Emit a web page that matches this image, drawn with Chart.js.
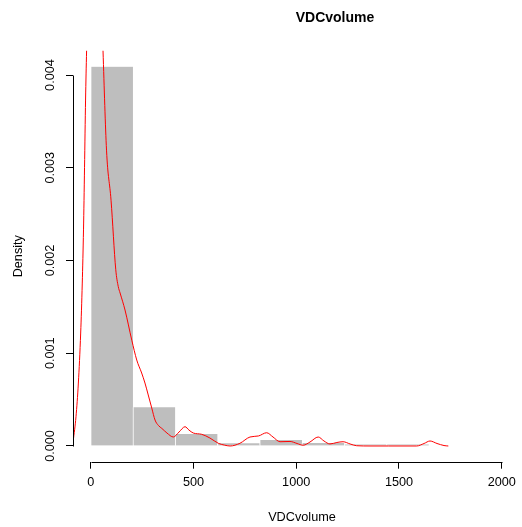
<!DOCTYPE html>
<html><head><meta charset="utf-8">
<script src="https://cdn.jsdelivr.net/npm/chart.js@4/dist/chart.umd.min.js"></script>
<style>html,body{margin:0;padding:0;background:#fff}#wrap{width:522px;height:527px}</style>
</head><body><div id="wrap"><canvas id="c" width="522" height="527"></canvas></div>
<script>
// ---- data ----
const chartTitle = 'VDCvolume';
const xLabel = 'VDCvolume';
const yLabel = 'Density';
const binCenters = [102.8, 308.4, 514.0, 719.6, 925.2, 1130.8, 1336.4, 1542.0];
const binDensity = [0.00409, 0.000417, 0.000129, 0.00003, 0.000064, 0.000032, 0.000017, 0.000017];
const densityX = [-85, -71.5, -60, -48.7, -41, -35, -30, -25, -20, -10, 5, 20, 35, 50, 60, 77, 99, 122, 134, 143, 167, 200, 224, 248, 264, 280, 297, 313, 330, 346, 371, 402, 430, 459, 478, 499, 540, 580, 621, 650, 678, 726, 775, 816, 856, 887, 921, 970, 1004, 1034, 1067, 1107, 1135, 1164, 1198, 1228, 1262, 1294, 1359, 1450, 1586, 1622, 1651, 1685, 1719, 1740];
const densityY = [0.000054, 0.000316, 0.000679, 0.001218, 0.001757, 0.00233, 0.0030, 0.00373, 0.00426, 0.0052, 0.0060, 0.0062, 0.0058, 0.0050, 0.00426, 0.00319, 0.00265, 0.00190, 0.00172, 0.00165, 0.001466, 0.00114, 0.000927, 0.000787, 0.000679, 0.00055, 0.00041, 0.00028, 0.00022, 0.00019, 0.00014, 0.000097, 0.000151, 0.000208, 0.000172, 0.00014, 0.000126, 0.000086, 0.000029, 0.00001, 0.0, 0.000029, 0.000097, 0.000108, 0.000143, 0.000097, 0.000046, 0.000049, 0.000027, 0.000008, 0.000043, 0.000097, 0.000054, 0.000022, 0.000038, 0.000046, 0.000022, 0.000003, 0.0, 0.0, 0.0, 0.000027, 0.000054, 0.000027, 0.000005, 0.0];
const xTicks = [0, 500, 1000, 1500, 2000];
const xTickLabels = ['0', '500', '1000', '1500', '2000'];
const yTicks = [0, 0.001, 0.002, 0.003, 0.004];
const yTickLabels = ['0.000', '0.001', '0.002', '0.003', '0.004'];

// ---- chart ----
const FONT = '"Liberation Sans", Arial, Helvetica, sans-serif';
const FS = 12.7;

const rAxes = {
  id: 'rAxes',
  afterDraw(chart) {
    const ctx = chart.ctx;
    const xs = chart.scales.x, ys = chart.scales.y;
    const a = chart.chartArea;
    ctx.save();
    ctx.strokeStyle = '#000';
    ctx.lineWidth = 1;
    ctx.beginPath();
    const yb = Math.round(a.bottom) + 0.5;
    ctx.moveTo(Math.round(xs.getPixelForValue(xTicks[0])) + 0.5, yb);
    ctx.lineTo(Math.round(xs.getPixelForValue(xTicks[xTicks.length - 1])) + 0.5, yb);
    const xl = Math.round(a.left) + 0.5;
    ctx.moveTo(xl, Math.round(ys.getPixelForValue(yTicks[0])) + 0.5);
    ctx.lineTo(xl, Math.round(ys.getPixelForValue(yTicks[yTicks.length - 1])) + 0.5);
    ctx.stroke();
    ctx.fillStyle = '#000';
    ctx.textAlign = 'center';
    ctx.textBaseline = 'middle';
    ctx.font = 'bold 14px ' + FONT;
    ctx.fillText(chartTitle, 335, 18);
    ctx.font = FS + 'px ' + FONT;
    ctx.fillText(xLabel, 302, 517);
    ctx.restore();
  }
};

new Chart(document.getElementById('c'), {
  type: 'bar',
  data: {
    datasets: [
      {
        type: 'line',
        order: 0,
        data: densityX.map((x, i) => ({x: x, y: densityY[i]})),
        borderColor: '#ff0000',
        borderWidth: 1,
        pointRadius: 0,
        cubicInterpolationMode: 'monotone',
        fill: false
      },
      {
        type: 'bar',
        order: 1,
        data: binCenters.map((x, i) => ({x: x, y: binDensity[i]})),
        backgroundColor: '#bebebe',
        borderColor: '#ffffff',
        borderWidth: {left: 1, right: 0, top: 0, bottom: 0},
        borderSkipped: false,
        barPercentage: 1,
        categoryPercentage: 1
      }
    ]
  },
  options: {
    responsive: false,
    animation: false,
    devicePixelRatio: 1,
    layout: {padding: {left: 0, right: 3.6, top: 50.7, bottom: 0}},
    plugins: {legend: {display: false}, tooltip: {enabled: false}, title: {display: false}},
    scales: {
      x: {
        type: 'linear',
        min: -86.1,
        max: 2080,
        offset: false,
        afterBuildTicks: s => { s.ticks = xTicks.map(v => ({value: v})); },
        afterFit: s => { s.height = 527 - 461.7; },
        border: {display: false},
        grid: {display: true, drawOnChartArea: false, drawTicks: true, tickLength: 7, color: '#000', offset: false},
        ticks: {
          autoSkip: false, maxRotation: 0, minRotation: 0, padding: 6,
          color: '#000', font: {family: FONT, size: FS},
          callback: (v, i) => xTickLabels[i]
        }
      },
      y: {
        type: 'linear',
        min: -0.0001693,
        max: 0.004262,
        afterBuildTicks: s => { s.ticks = yTicks.map(v => ({value: v})); },
        afterFit: s => { s.width = 73; },
        border: {display: false},
        grid: {display: true, drawOnChartArea: false, drawTicks: true, tickLength: 7, color: '#000'},
        ticks: {
          autoSkip: false, minRotation: 90, maxRotation: 90, crossAlign: 'center', padding: 0,
          color: '#000', font: {family: FONT, size: FS},
          callback: (v, i) => yTickLabels[i]
        },
        title: {display: true, text: yLabel, color: '#000', font: {family: FONT, size: FS}, padding: {top: 10.7, bottom: 0}}
      }
    }
  },
  plugins: [rAxes]
});
</script>
</body></html>
